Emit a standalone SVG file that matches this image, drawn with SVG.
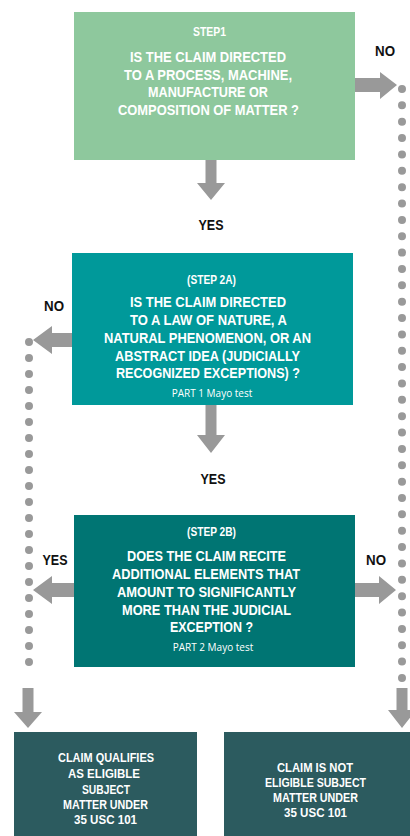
<svg xmlns="http://www.w3.org/2000/svg" width="410" height="836" viewBox="0 0 410 836">
<style>
.t{font-family:"Liberation Sans",Arial,sans-serif;font-weight:bold;fill:#fff;text-anchor:middle;font-size:15px}
.s{font-family:"Liberation Sans",Arial,sans-serif;font-weight:bold;fill:#fff;text-anchor:middle;font-size:12.5px}
.b{font-family:"Liberation Sans",Arial,sans-serif;font-weight:bold;fill:#fff;text-anchor:middle;font-size:13.5px}
.m{font-family:"Open Sans","Liberation Sans",sans-serif;fill:#fff;text-anchor:middle;font-size:10px}
.l{font-family:"Liberation Sans",Arial,sans-serif;font-weight:bold;fill:#111;text-anchor:middle;font-size:15.5px}
.arr{fill:#999}
.dots{stroke:#999;stroke-width:8;stroke-linecap:round;fill:none}
</style>
<g id="connectors">
<line class="dots" x1="402" y1="89" x2="402" y2="678" stroke-dasharray="0 16.36"/>
<line class="dots" x1="29" y1="342" x2="29" y2="678" stroke-dasharray="0 16"/>
<polygon class="arr" points="205.5,160 216.5,160 216.5,183 225,183 211,200 197,183 205.5,183"/>
<polygon class="arr" points="205.5,405 216.5,405 216.5,435 225,435 211,453 197,435 205.5,435"/>
<polygon class="arr" points="355,78 380,78 380,72 397,85 380,99 380,92 355,92"/>
<polygon class="arr" points="72,333 52,333 52,326 33,340 52,354 52,347 72,347"/>
<polygon class="arr" points="74,583 52,583 52,576 33,590 52,604 52,597 74,597"/>
<polygon class="arr" points="355,583 379,583 379,576 396,590 379,604 379,597 355,597"/>
<polygon class="arr" points="22.5,688 33.5,688 33.5,712 42,712 28,728 14,712 22.5,712"/>
<polygon class="arr" points="396.5,688 407.5,688 407.5,710 416,710 402,728 388,710 396.5,710"/>
<text class="l" x="385" y="56" textLength="20" lengthAdjust="spacingAndGlyphs">NO</text>
<text class="l" x="211" y="230" textLength="25" lengthAdjust="spacingAndGlyphs">YES</text>
<text class="l" x="54" y="311" textLength="20" lengthAdjust="spacingAndGlyphs">NO</text>
<text class="l" x="213" y="484" textLength="25" lengthAdjust="spacingAndGlyphs">YES</text>
<text class="l" x="55" y="565" textLength="25" lengthAdjust="spacingAndGlyphs">YES</text>
<text class="l" x="376" y="565" textLength="20" lengthAdjust="spacingAndGlyphs">NO</text>
</g>
<g id="step1">
<rect x="74" y="12" width="281" height="148" fill="#8EC89D"/>
<text class="s" x="209.5" y="36" textLength="33" lengthAdjust="spacingAndGlyphs">STEP1</text>
<text class="t" x="208" y="62" textLength="156" lengthAdjust="spacingAndGlyphs">IS THE CLAIM DIRECTED</text>
<text class="t" x="208" y="79.5" textLength="168" lengthAdjust="spacingAndGlyphs">TO A PROCESS, MACHINE,</text>
<text class="t" x="208" y="97" textLength="120" lengthAdjust="spacingAndGlyphs">MANUFACTURE OR</text>
<text class="t" x="208.5" y="115" textLength="181" lengthAdjust="spacingAndGlyphs">COMPOSITION OF MATTER ?</text>
</g>
<g id="step2a">
<rect x="72" y="253" width="281" height="152" fill="#00999A"/>
<text class="s" x="211.5" y="284" textLength="49" lengthAdjust="spacingAndGlyphs">(STEP 2A)</text>
<text class="t" x="208" y="307" textLength="156" lengthAdjust="spacingAndGlyphs">IS THE CLAIM DIRECTED</text>
<text class="t" x="208.5" y="325" textLength="157" lengthAdjust="spacingAndGlyphs">TO A LAW OF NATURE, A</text>
<text class="t" x="207.5" y="343" textLength="207" lengthAdjust="spacingAndGlyphs">NATURAL PHENOMENON, OR AN</text>
<text class="t" x="207.5" y="361" textLength="185" lengthAdjust="spacingAndGlyphs">ABSTRACT IDEA (JUDICIALLY</text>
<text class="t" x="208" y="378" textLength="184" lengthAdjust="spacingAndGlyphs">RECOGNIZED EXCEPTIONS) ?</text>
<text class="m" x="212" y="397">PART 1 Mayo test</text>
</g>
<g id="step2b">
<rect x="74" y="515" width="281" height="152" fill="#007573"/>
<text class="s" x="211.5" y="536" textLength="49" lengthAdjust="spacingAndGlyphs">(STEP 2B)</text>
<text class="t" x="206.5" y="561" textLength="159" lengthAdjust="spacingAndGlyphs">DOES THE CLAIM RECITE</text>
<text class="t" x="206" y="578.5" textLength="188" lengthAdjust="spacingAndGlyphs">ADDITIONAL ELEMENTS THAT</text>
<text class="t" x="206.5" y="596.5" textLength="179" lengthAdjust="spacingAndGlyphs">AMOUNT TO SIGNIFICANTLY</text>
<text class="t" x="206.5" y="614.5" textLength="169" lengthAdjust="spacingAndGlyphs">MORE THAN THE JUDICIAL</text>
<text class="t" x="211.5" y="632" textLength="83" lengthAdjust="spacingAndGlyphs">EXCEPTION ?</text>
<text class="m" x="213" y="651">PART 2 Mayo test</text>
</g>
<g id="eligible">
<rect x="14" y="732" width="183" height="104" fill="#2C5B5F"/>
<text class="b" x="106" y="762" textLength="96" lengthAdjust="spacingAndGlyphs">CLAIM QUALIFIES</text>
<text class="b" x="104" y="778" textLength="72" lengthAdjust="spacingAndGlyphs">AS ELIGIBLE</text>
<text class="b" x="106" y="794" textLength="48" lengthAdjust="spacingAndGlyphs">SUBJECT</text>
<text class="b" x="105.5" y="809" textLength="85" lengthAdjust="spacingAndGlyphs">MATTER UNDER</text>
<text class="b" x="105.5" y="824" textLength="63" lengthAdjust="spacingAndGlyphs">35 USC 101</text>
</g>
<g id="not-eligible">
<rect x="224" y="732" width="186" height="104" fill="#2C5B5F"/>
<text class="b" x="315" y="772" textLength="76" lengthAdjust="spacingAndGlyphs">CLAIM IS NOT</text>
<text class="b" x="315.5" y="787" textLength="101" lengthAdjust="spacingAndGlyphs">ELIGIBLE SUBJECT</text>
<text class="b" x="315.5" y="802" textLength="85" lengthAdjust="spacingAndGlyphs">MATTER UNDER</text>
<text class="b" x="315.5" y="817" textLength="63" lengthAdjust="spacingAndGlyphs">35 USC 101</text>
</g>
</svg>
